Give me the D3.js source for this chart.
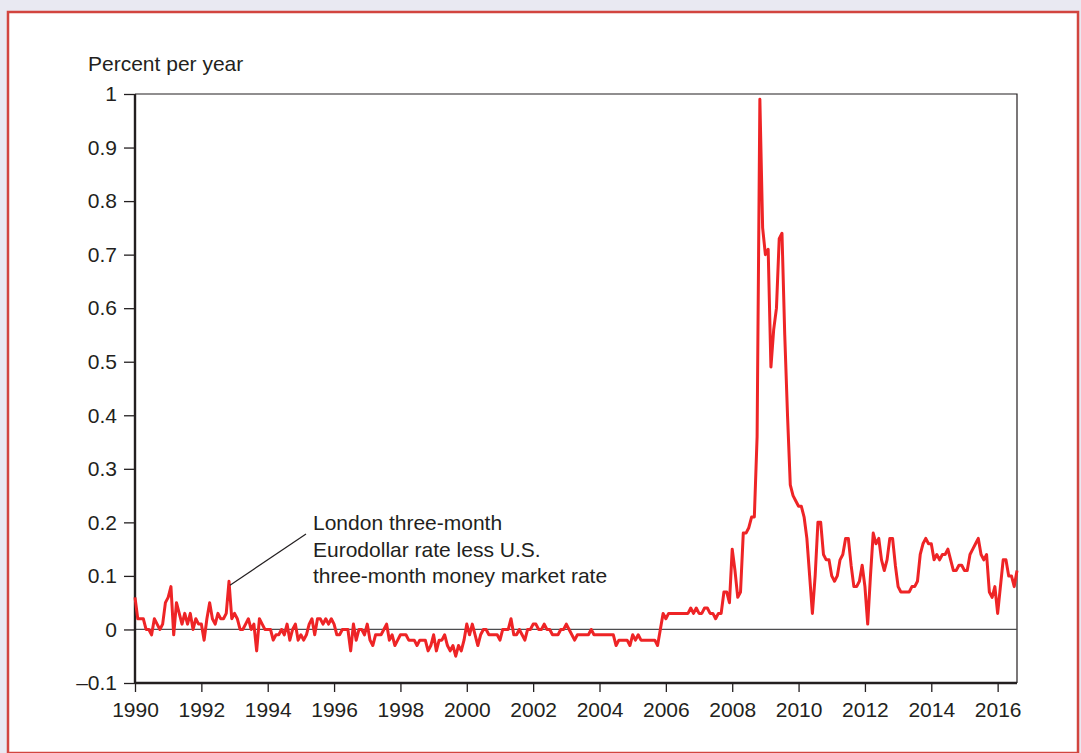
<html>

<head>
    <title> Eurodollar spread </title>

    <style>
        body {
            margin: 0;
            background: #e9e9f2;
        }

        #main-svg {
            display: block;
        }

        text {
            font-family: "Liberation Sans", "Helvetica", "Arial", sans-serif;
            fill: #231f20;
        }
    </style>

    <script src="https://cdn.jsdelivr.net/npm/d3@7"></script>
</head>

<body>
    <svg id="main-svg" width="1081" height="753"></svg>

    <script>
        // monthly spread, percent per year, starting January of each decade
        const spread1990s = [
            0.06, 0.02, 0.02, 0.02, 0.00, 0.00, -0.01, 0.02, 0.01, 0.00, 0.01, 0.05,
            0.06, 0.08, -0.01, 0.05, 0.03, 0.01, 0.03, 0.01, 0.03, 0.00, 0.02, 0.01,
            0.01, -0.02, 0.02, 0.05, 0.02, 0.01, 0.03, 0.02, 0.02, 0.03, 0.09, 0.02,
            0.03, 0.02, 0.00, 0.00, 0.01, 0.02, 0.00, 0.01, -0.04, 0.02, 0.01, 0.00,
            0.00, 0.00, -0.02, -0.01, -0.01, 0.00, -0.01, 0.01, -0.02, 0.00, 0.01, -0.02,
            -0.01, -0.02, -0.01, 0.01, 0.02, -0.01, 0.02, 0.02, 0.01, 0.02, 0.01, 0.02,
            0.01, -0.01, -0.01, 0.00, 0.00, 0.00, -0.04, 0.01, -0.02, 0.00, 0.00, -0.01,
            0.01, -0.02, -0.03, -0.01, -0.01, -0.01, 0.00, 0.01, -0.02, -0.01, -0.03, -0.02,
            -0.01, -0.01, -0.01, -0.02, -0.02, -0.02, -0.03, -0.02, -0.02, -0.02, -0.04, -0.03,
            -0.01, -0.04, -0.02, -0.02, -0.01, -0.03, -0.04, -0.03, -0.05, -0.03, -0.04, -0.02
        ];
        const spread2000s = [
            0.01, -0.01, 0.01, -0.01, -0.03, -0.01, 0.00, 0.00, -0.01, -0.01, -0.01, -0.01,
            -0.02, 0.00, 0.00, 0.00, 0.02, -0.01, -0.01, 0.00, -0.01, -0.02, 0.00, 0.00,
            0.01, 0.01, 0.00, 0.00, 0.01, 0.00, 0.00, -0.01, -0.01, -0.01, 0.00, 0.00,
            0.01, 0.00, -0.01, -0.02, -0.01, -0.01, -0.01, -0.01, -0.01, 0.00, -0.01, -0.01,
            -0.01, -0.01, -0.01, -0.01, -0.01, -0.01, -0.03, -0.02, -0.02, -0.02, -0.02, -0.03,
            -0.01, -0.02, -0.01, -0.02, -0.02, -0.02, -0.02, -0.02, -0.02, -0.03, 0.00, 0.03,
            0.02, 0.03, 0.03, 0.03, 0.03, 0.03, 0.03, 0.03, 0.03, 0.04, 0.03, 0.04,
            0.03, 0.03, 0.04, 0.04, 0.03, 0.03, 0.02, 0.03, 0.03, 0.07, 0.07, 0.05,
            0.15, 0.11, 0.06, 0.07, 0.18, 0.18, 0.19, 0.21, 0.21, 0.36, 0.99, 0.75,
            0.70, 0.71, 0.49, 0.56, 0.60, 0.73, 0.74, 0.55, 0.40, 0.27, 0.25, 0.24
        ];
        const spread2010s = [
            0.23, 0.23, 0.21, 0.17, 0.10, 0.03, 0.10, 0.20, 0.20, 0.14, 0.13, 0.13,
            0.10, 0.09, 0.10, 0.13, 0.14, 0.17, 0.17, 0.12, 0.08, 0.08, 0.09, 0.12,
            0.08, 0.01, 0.10, 0.18, 0.16, 0.17, 0.13, 0.11, 0.13, 0.17, 0.17, 0.12,
            0.08, 0.07, 0.07, 0.07, 0.07, 0.08, 0.08, 0.09, 0.14, 0.16, 0.17, 0.16,
            0.16, 0.13, 0.14, 0.13, 0.14, 0.14, 0.15, 0.13, 0.11, 0.11, 0.12, 0.12,
            0.11, 0.11, 0.14, 0.15, 0.16, 0.17, 0.14, 0.13, 0.14, 0.07, 0.06, 0.08,
            0.03, 0.08, 0.13, 0.13, 0.10, 0.10, 0.08, 0.11
        ];

        const xTickYears = [1990, 1992, 1994, 1996, 1998, 2000, 2002, 2004, 2006, 2008, 2010, 2012, 2014, 2016];
        const yTickValues = [-0.1, 0, 0.1, 0.2, 0.3, 0.4, 0.5, 0.6, 0.7, 0.8, 0.9, 1];
        const noteLines = ["London three-month", "Eurodollar rate less U.S.", "three-month money market rate"];

        // one point per month from January 1990
        const series = [];
        [[1990, spread1990s], [2000, spread2000s], [2010, spread2010s]].forEach(([start, vals]) => {
            vals.forEach((v, i) => series.push({ t: start + i / 12, v: v }));
        });

        const svg = d3.select("#main-svg");
        const plot = { left: 135, right: 1017, top: 94, bottom: 683 };
        const fontSize = "21px";

        // frame
        svg.append("rect")
            .attr("x", 8).attr("y", 12)
            .attr("width", 1070).attr("height", 741)
            .attr("fill", "white")
            .attr("stroke", "#d2453f")
            .attr("stroke-width", 2.5);

        const x = d3.scaleLinear()
            .domain([1990, series[series.length - 1].t])
            .range([plot.left, plot.right]);
        const y = d3.scaleLinear()
            .domain([-0.1, 1])
            .range([plot.bottom, plot.top]);

        // thin top and right border of the plot box
        svg.append("path")
            .attr("d", `M${plot.left},${plot.top}H${plot.right}V${plot.bottom}`)
            .attr("fill", "none")
            .attr("stroke", "#231f20")
            .attr("stroke-width", 1.2);

        // zero line
        svg.append("line")
            .attr("x1", plot.left).attr("x2", plot.right)
            .attr("y1", y(0)).attr("y2", y(0))
            .attr("stroke", "#4d4d4f")
            .attr("stroke-width", 1.3);

        const fmtY = d => d === 0 ? "0" : d === 1 ? "1" : (d < 0 ? "\u2013" : "") + Math.abs(d).toFixed(1);

        const yAxis = svg.append("g")
            .attr("transform", `translate(${plot.left},0)`)
            .call(d3.axisLeft(y).tickValues(yTickValues).tickFormat(fmtY).tickSize(11).tickPadding(7));

        const xAxis = svg.append("g")
            .attr("transform", `translate(0,${plot.bottom})`)
            .call(d3.axisBottom(x).tickValues(xTickYears).tickFormat(d3.format("d")).tickSize(9).tickPadding(10));

        [yAxis, xAxis].forEach(g => {
            g.select(".domain").attr("stroke", "#231f20").attr("stroke-width", 2.4);
            g.selectAll(".tick line").attr("stroke", "#231f20").attr("stroke-width", 1.3);
            g.selectAll(".tick text")
                .attr("fill", "#231f20")
                .style("font-size", fontSize)
                .style("font-family", "Liberation Sans, Arial, sans-serif");
        });
        xAxis.select(".domain").attr("d", `M${plot.left},0H${plot.right}`);
        yAxis.select(".domain").attr("d", `M0,${plot.bottom}V${plot.top}`);

        // unit label
        svg.append("text")
            .attr("x", 88).attr("y", 71)
            .style("font-size", fontSize)
            .text("Percent per year");

        // the series
        const line = d3.line().x(d => x(d.t)).y(d => y(d.v));
        svg.append("path")
            .datum(series)
            .attr("d", line)
            .attr("fill", "none")
            .attr("stroke", "#ee2426")
            .attr("stroke-width", 3)
            .attr("stroke-linejoin", "round");

        // annotation with leader line to the late-1992 point
        const target = series[34];
        svg.append("line")
            .attr("x1", 306).attr("y1", 534)
            .attr("x2", x(target.t) + 1).attr("y2", y(target.v) + 4)
            .attr("stroke", "#231f20")
            .attr("stroke-width", 1.2);

        svg.append("text")
            .attr("x", 313).attr("y", 530)
            .style("font-size", fontSize)
            .selectAll("tspan")
            .data(noteLines)
            .enter()
            .append("tspan")
            .attr("x", 313)
            .attr("dy", (d, i) => i === 0 ? 0 : 26.5)
            .text(d => d);
    </script>

</body>

</html>
